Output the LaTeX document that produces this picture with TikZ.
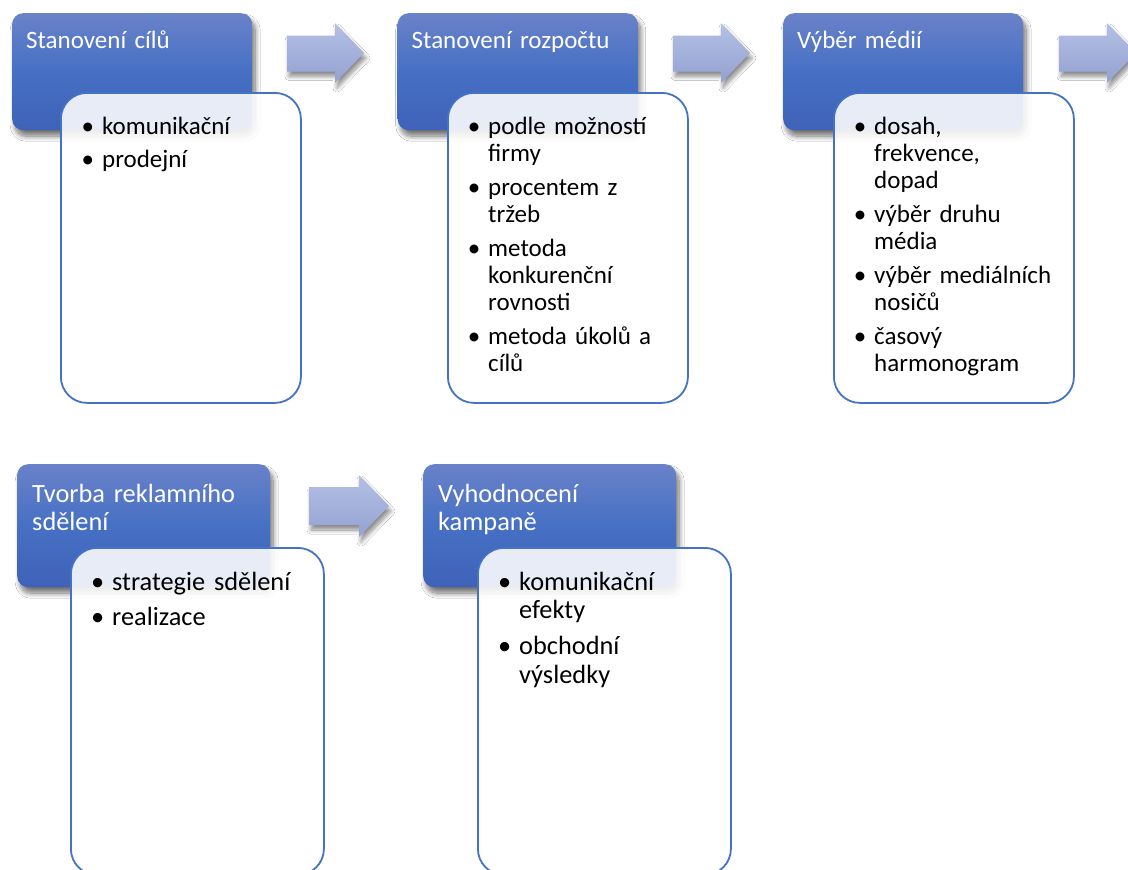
\documentclass[tikz,border=0pt]{standalone}
\usepackage{fontspec}
\setmainfont{Carlito}
\usetikzlibrary{shadows.blur}
\definecolor{hTop}{RGB}{106,130,201}
\definecolor{hMid}{RGB}{70,112,196}
\definecolor{hBot}{RGB}{62,98,184}
\definecolor{bord}{RGB}{68,114,196}
\definecolor{aTop}{RGB}{180,192,228}
\definecolor{aBot}{RGB}{148,162,210}
\newcommand{\bul}{\leavevmode\llap{\textbullet\hspace{8pt}}}
\tikzset{
  hdr/.style={rounded corners=11pt, top color=hTop, bottom color=hBot, middle color=hMid,
    draw=none, inner sep=0pt, anchor=north west,
    blur shadow={shadow xshift=3pt, shadow yshift=-6pt, shadow blur radius=5pt, shadow blur steps=12, shadow opacity=55}},
  cbox/.style={draw=bord, line width=1.8pt, fill=white, fill opacity=0.88, draw opacity=1,
    rounded corners=26pt, inner sep=0pt, anchor=north west},
  arr/.style={top color=aTop, bottom color=aBot, draw=none,
    blur shadow={shadow xshift=2pt, shadow yshift=-5pt, shadow blur radius=4pt, shadow blur steps=10, shadow opacity=45}},
  htxt/.style={text=white, anchor=base west, inner sep=0pt, text width=235pt, align=left},
  btxt/.style={text=black, anchor=base west, inner sep=0pt, text width=230pt, align=left},
  fa/.style={font=\fontsize{25}{27.3}\selectfont},
  fb/.style={font=\fontsize{26.35}{28.8}\selectfont},
}
\begin{document}
\begin{tikzpicture}[x=1pt,y=-1pt]
\useasboundingbox (0,0) rectangle (1128,870);
\clip (0,0) rectangle (1128,870);
\fill[white] (0,0) rectangle (1128,870);
% arrows
\path[arr] (287,35.5) -- (335,35.5) -- (335,23) -- (364,53) -- (335,83) -- (335,71.5) -- (287,71.5) -- cycle;
\path[arr] (673,35.5) -- (721,35.5) -- (721,23) -- (750,53) -- (721,83) -- (721,71.5) -- (673,71.5) -- cycle;
\path[arr] (1059,35.5) -- (1107,35.5) -- (1107,23) -- (1136,53) -- (1107,83) -- (1107,71.5) -- (1059,71.5) -- cycle;
\path[arr] (309,487) -- (359,487) -- (359,475) -- (389,506) -- (359,537) -- (359,525) -- (309,525) -- cycle;
% top row
\node[hdr, minimum width=240pt, minimum height=117pt] (h1) at (12,13) {};
\node[hdr, minimum width=240pt, minimum height=117pt] (h2) at (397.5,13) {};
\node[hdr, minimum width=240pt, minimum height=117pt] (h3) at (783,13) {};
\node[cbox, minimum width=240pt, minimum height=310pt] (c1) at (60,92) {};
\node[cbox, minimum width=240pt, minimum height=310pt] (c2) at (447,92) {};
\node[cbox, minimum width=240pt, minimum height=310pt] (c3) at (833,92) {};
\node[htxt, fa] (t1) at (26,48) {Stanovení cílů};
\node[htxt, fa] (t2) at (411.5,48) {Stanovení rozpočtu};
\node[htxt, fa] (t3) at (797,48) {Výběr médií};
\node[btxt, fa] (b1) at (102,134) {\bul komunikační\\[6.5pt]\bul prodejní};
\node[btxt, fa] (b2) at (488,134) {\bul podle možností\\ firmy\\[6.5pt]\bul procentem z\\ tržeb\\[6.5pt]\bul metoda\\ konkurenční\\ rovnosti\\[6.5pt]\bul metoda úkolů a\\ cílů};
\node[btxt, fa] (b3) at (874,134) {\bul dosah,\\ frekvence,\\ dopad\\[6.5pt]\bul výběr druhu\\ média\\[6.5pt]\bul výběr mediálních\\ nosičů\\[6.5pt]\bul časový\\ harmonogram};
% bottom row
\node[hdr, minimum width=253pt, minimum height=123pt] (h4) at (17,464) {};
\node[hdr, minimum width=253pt, minimum height=123pt] (h5) at (423,464) {};
\node[cbox, minimum width=253pt, minimum height=327pt] (c4) at (70,547) {};
\node[cbox, minimum width=253pt, minimum height=327pt] (c5) at (477,547) {};
\node[htxt, fb] (t4) at (32,502) {Tvorba reklamního\\ sdělení};
\node[htxt, fb] (t5) at (438,502) {Vyhodnocení\\ kampaně};
\node[btxt, fb] (b4) at (112,590) {\bul strategie sdělení\\[6.9pt]\bul realizace};
\node[btxt, fb] (b5) at (519,590) {\bul komunikační\\ efekty\\[6.9pt]\bul obchodní\\ výsledky};
\end{tikzpicture}
\end{document}
